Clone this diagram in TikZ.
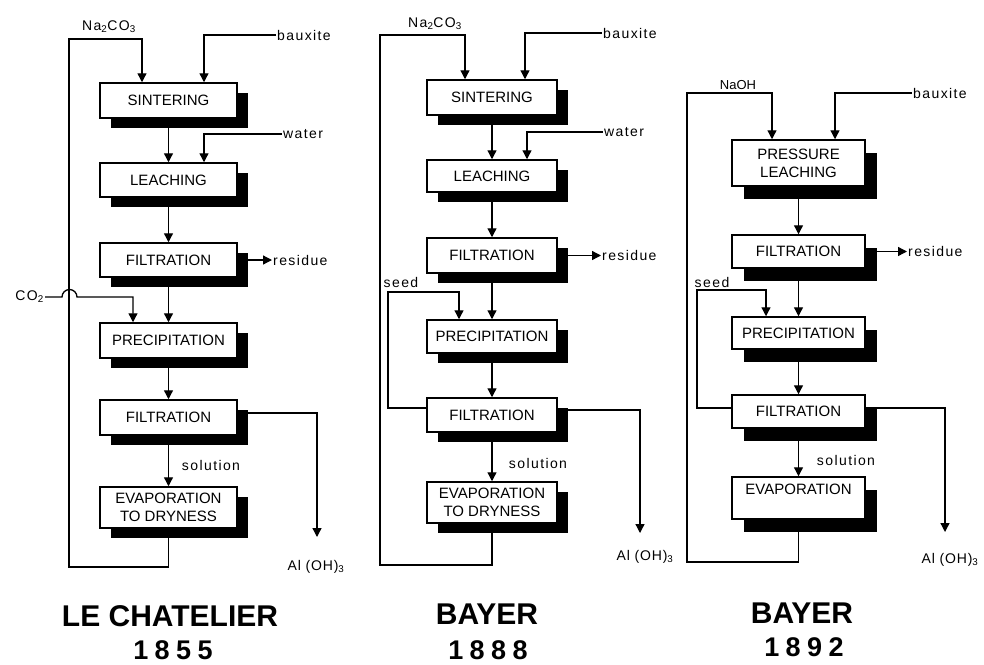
\documentclass[tikz,border=0pt]{standalone}
\usepackage{fontspec}
\setmainfont{Liberation Sans}
\usetikzlibrary{arrows.meta,shadows}
\newcommand\boxfont{\fontsize{15}{18}\selectfont}
\newcommand\lblfont{\fontsize{14}{15}\selectfont\addfontfeature{LetterSpace=10}}
\newcommand\smlfont{\fontsize{13}{14}\selectfont}
\newcommand\alfont{\fontsize{14}{15}\selectfont\addfontfeature{LetterSpace=6}}
\newcommand\ttlfont{\fontsize{30}{31}\selectfont\bfseries}
\newcommand\yrfont{\fontsize{27}{28}\selectfont\bfseries\addfontfeature{LetterSpace=24}}
\begin{document}
\begin{tikzpicture}[x=1pt,y=-1pt,
  arr/.style={line width=1.3pt, -{Triangle[length=9pt,width=9pt]}},
  pbox/.style={draw, line width=1.5pt, fill=white, inner sep=0pt, align=center, font=\boxfont},
  c1/.style={pbox, minimum width=137pt, general shadow={fill=black, shadow xshift=11pt, shadow yshift=-10pt}},
  c2/.style={pbox, minimum width=130pt, general shadow={fill=black, shadow xshift=11pt, shadow yshift=-10pt}},
  c3/.style={pbox, minimum width=133pt, general shadow={fill=black, shadow xshift=12pt, shadow yshift=-13pt}},
  lbl/.style={inner sep=1pt, font=\lblfont},
  sml/.style={inner sep=1pt, font=\smlfont},
  alb/.style={inner sep=1pt, font=\alfont},
  ttl/.style={inner sep=0pt, font=\ttlfont},
  yr/.style={inner sep=0pt, font=\yrfont}]
\useasboundingbox (0,0) rectangle (984,664);
\fill[white] (0,0) rectangle (984,664);

% ---------------- Column 1: Le Chatelier ----------------
\node[c1, minimum height=35pt] (s1) at (168.5,100.5) {SINTERING};
\node[c1, minimum height=34pt] (l1) at (168.5,180) {LEACHING};
\node[c1, minimum height=34pt] (f1) at (168.5,260) {FILTRATION};
\node[c1, minimum height=35pt] (p1) at (168.5,340.5) {PRECIPITATION};
\node[c1, minimum height=35pt] (g1) at (168.5,417.5) {FILTRATION};
\node[c1, minimum height=41pt] (e1) at (168.5,507.5) {EVAPORATION\\TO DRYNESS};

\node[lbl] (na1) at (109,27) {Na\textsubscript{2}CO\textsubscript{3}};
\node[lbl, anchor=west] (bx1) at (276,35) {bauxite};
\node[lbl, anchor=west] (w1) at (282,134) {water};
\node[lbl, anchor=west] (rs1) at (272,260) {residue};
\node[lbl, anchor=east] (co1) at (45,297) {CO\textsubscript{2}};
\node[lbl] (so1) at (211,465) {solution};
\node[alb] (al1) at (316,567) {Al (OH)\textsubscript{3}};

\coordinate (k1a) at (69,567);
\coordinate (k1b) at (69,39);
\coordinate (n1) at (142,39);
\coordinate (h1) at (62,297);
\coordinate (m1) at (133,297);
\coordinate (a1e) at (317,537);

\draw[arr] (s1.south) -- (l1.north);
\draw[arr] (l1.south) -- (f1.north);
\draw[arr] (f1.south) -- (p1.north);
\draw[arr] (p1.south) -- (g1.north);
\draw[arr] (g1.south) -- (e1.north);
\draw[arr] (e1.south) -- (e1.south |- k1a) -- (k1a) -- (k1b) -- (n1) -- (n1 |- s1.north);
\draw[arr] (bx1.west) -| ([xshift=35.5pt]s1.north);
\draw[arr] (w1.west) -| ([xshift=35.5pt]l1.north);
\draw[arr] (f1.east) -- (rs1.west);
\draw[arr] (co1.east) -- (h1) arc[start angle=180, end angle=360, radius=7.5] -- (m1) -- (m1 |- p1.north);
\draw[arr] ([yshift=4.5pt]g1.east) -| (a1e);

% ---------------- Column 2: Bayer 1888 ----------------
\node[c2, minimum height=35pt] (s2) at (492,97.5) {SINTERING};
\node[c2, minimum height=32pt] (l2) at (492,176) {LEACHING};
\node[c2, minimum height=35pt] (f2) at (492,255.5) {FILTRATION};
\node[c2, minimum height=33pt] (p2) at (492,336.5) {PRECIPITATION};
\node[c2, minimum height=34pt] (g2) at (492,415) {FILTRATION};
\node[c2, minimum height=41pt] (e2) at (492,502.5) {EVAPORATION\\TO DRYNESS};

\node[lbl] (na2) at (435,24) {Na\textsubscript{2}CO\textsubscript{3}};
\node[lbl, anchor=west] (bx2) at (602,33) {bauxite};
\node[lbl, anchor=west] (w2) at (603,132) {water};
\node[lbl, anchor=west] (rs2) at (601,255.5) {residue};
\node[lbl] (sd2) at (401,282) {seed};
\node[lbl] (so2) at (538,463) {solution};
\node[alb] (al2) at (645,557) {Al (OH)\textsubscript{3}};

\coordinate (k2a) at (380,565);
\coordinate (k2b) at (380,35);
\coordinate (n2) at (465,35);
\coordinate (q2a) at (388,408);
\coordinate (q2b) at (388,292);
\coordinate (q2c) at (459,292);
\coordinate (a2e) at (640,533);

\draw[arr] (s2.south) -- (l2.north);
\draw[arr] (l2.south) -- (f2.north);
\draw[arr] (f2.south) -- (p2.north);
\draw[arr] (p2.south) -- (g2.north);
\draw[arr] (g2.south) -- (e2.north);
\draw[arr] (e2.south) -- (e2.south |- k2a) -- (k2a) -- (k2b) -- (n2) -- (n2 |- s2.north);
\draw[arr] (bx2.west) -| ([xshift=33pt]s2.north);
\draw[arr] (w2.west) -| ([xshift=35pt]l2.north);
\draw[arr] (f2.east) -- (rs2.west);
\draw[arr] ([yshift=7pt]g2.west) -- (q2a) -- (q2b) -- (q2c) -- (q2c |- p2.north);
\draw[arr] ([yshift=5pt]g2.east) -| (a2e);

% ---------------- Column 3: Bayer 1892 ----------------
\node[c3, minimum height=46pt] (pl3) at (798.5,163) {PRESSURE\\LEACHING};
\node[c3, minimum height=33pt] (f3) at (798.5,251.5) {FILTRATION};
\node[c3, minimum height=32pt] (p3) at (798.5,333) {PRECIPITATION};
\node[c3, minimum height=33pt] (g3) at (798.5,411.5) {FILTRATION};
\node[c3, minimum height=42pt] (e3) at (798.5,498) {EVAPORATION\\ \mbox{}};

\node[sml] (nh3) at (738,85) {NaOH};
\node[lbl, anchor=west] (bx3) at (912,93) {bauxite};
\node[lbl, anchor=west] (rs3) at (907,251.5) {residue};
\node[lbl] (sd3) at (712,282) {seed};
\node[lbl] (so3) at (846,460) {solution};
\node[alb] (al3) at (950,560) {Al (OH)\textsubscript{3}};

\coordinate (k3a) at (687,562);
\coordinate (k3b) at (687,93);
\coordinate (n3) at (772,93);
\coordinate (q3a) at (697,408);
\coordinate (q3b) at (697,290);
\coordinate (q3c) at (766,290);
\coordinate (a3e) at (945,532);

\draw[arr] (pl3.south) -- (f3.north);
\draw[arr] (f3.south) -- (p3.north);
\draw[arr] (p3.south) -- (g3.north);
\draw[arr] (g3.south) -- (e3.north);
\draw[arr] (e3.south) -- (e3.south |- k3a) -- (k3a) -- (k3b) -- (n3) -- (n3 |- pl3.north);
\draw[arr] (bx3.west) -| ([xshift=36.5pt]pl3.north);
\draw[arr] (f3.east) -- (rs3.west);
\draw[arr] ([yshift=3.5pt]g3.west) -- (q3a) -- (q3b) -- (q3c) -- (q3c |- p3.north);
\draw[arr] ([yshift=3.5pt]g3.east) -| (a3e);

% ---------------- Titles ----------------
\node[ttl] (t1) at (170,616) {LE CHATELIER};
\node[yr] (y1) at (173,650) {1855};
\node[ttl] (t2) at (487,614) {BAYER};
\node[yr] (y2) at (488,650) {1888};
\node[ttl] (t3) at (802,613) {BAYER};
\node[yr] (y3) at (804,647) {1892};
\end{tikzpicture}
\end{document}
